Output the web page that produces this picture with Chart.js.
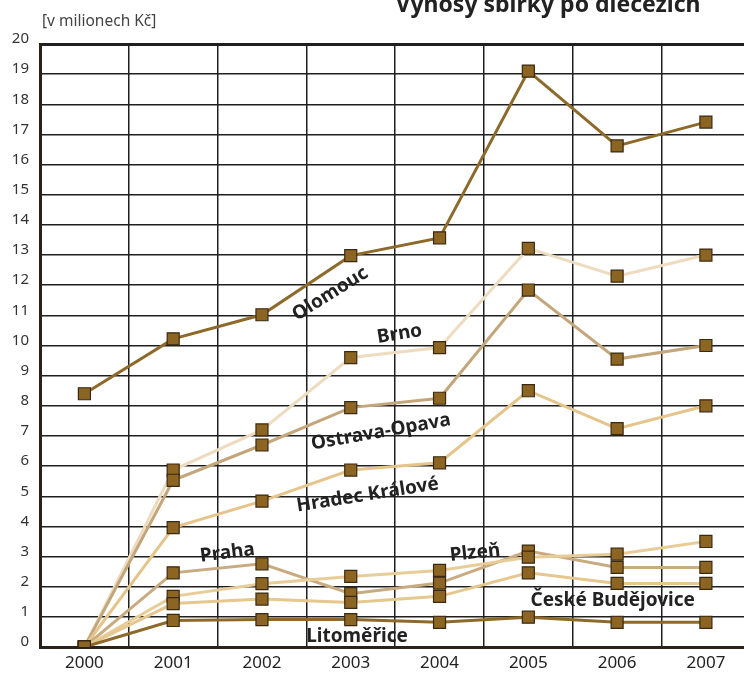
<!DOCTYPE html>
<html>
<head>
<meta charset="utf-8">
<script src="https://cdn.jsdelivr.net/npm/chart.js@4/dist/chart.umd.min.js"></script>
<style>
  html, body { margin: 0; padding: 0; background: #fff; overflow: hidden; }
</style>
</head>
<body>
<canvas id="graf" width="760" height="674"></canvas>
<script>
// roky a hodnoty (v milionech Kč)
const roky = ['2000', '2001', '2002', '2003', '2004', '2005', '2006', '2007'];
const olomouc = [8.4, 10.22, 11.02, 12.98, 13.57, 19.1, 16.62, 17.41];
const brno = [0, 5.87, 7.2, 9.6, 9.93, 13.22, 12.3, 13.0];
const ostrava = [0, 5.53, 6.7, 7.94, 8.25, 11.84, 9.55, 10.0];
const hradec = [0, 3.96, 4.84, 5.87, 6.11, 8.5, 7.24, 8.0];
const praha = [0, 2.46, 2.76, 1.77, 2.12, 3.18, 2.64, 2.64];
const plzen = [0, 1.68, 2.1, 2.34, 2.54, 2.98, 3.08, 3.5];
const budejovice = [0, 1.44, 1.59, 1.48, 1.68, 2.46, 2.11, 2.11];
const litomerice = [0, 0.88, 0.91, 0.91, 0.82, 0.99, 0.82, 0.82];

const osaY = [0, 20];

// popisky v grafu: [text, index roku, hodnota, natočení ve stupních]
const popisky = [
  ['Olomouc', 2.77, 11.71, -32],
  ['Brno', 3.55, 10.38, -9],
  ['Ostrava-Opava', 3.34, 7.13, -10],
  ['Hradec Králové', 3.19, 5.04, -9],
  ['Praha', 1.61, 3.12, -7],
  ['Plzeň', 4.40, 3.12, -6],
  ['České Budějovice', 5.95, 1.53, 0],
  ['Litoměřice', 3.07, 0.36, 0]
];

const nadpis = 'Výnosy sbírky po diecézích';
const jednotka = '[v milionech Kč]';

let rada = function (data, barva) {
  return {
    data: data,
    borderColor: barva,
    borderWidth: 3,
    tension: 0,
    pointStyle: 'rect',
    pointRadius: 8.5,
    pointHoverRadius: 8.5,
    pointBackgroundColor: '#8d6523',
    pointBorderColor: '#3a2912',
    pointBorderWidth: 1.2
  };
};

// vlastní popisky
let popiskyPlugin = {
  id: 'popisky',
  afterDatasetsDraw: function (chart) {
    let ctx = chart.ctx;
    let sx = chart.scales.x;
    let sy = chart.scales.y;
    ctx.save();
    ctx.fillStyle = '#222';
    ctx.font = 'bold 19px "Noto Sans"';
    ctx.textAlign = 'center';
    ctx.textBaseline = 'middle';
    popisky.forEach(function (p) {
      let x = sx.getPixelForValue(p[1]);
      let y = sy.getPixelForValue(p[2]);
      ctx.save();
      ctx.translate(x, y);
      ctx.rotate(p[3] * Math.PI / 180);
      ctx.fillText(p[0], 0, 0);
      ctx.restore();
    });

    // nadpis (nahoře oříznutý)
    ctx.font = 'bold 23px "Noto Sans"';
    ctx.textBaseline = 'alphabetic';
    ctx.fillText(nadpis, 548, 12);

    // jednotka
    ctx.font = '15.5px "Noto Sans"';
    ctx.fillStyle = '#444';
    ctx.textAlign = 'left';
    ctx.textBaseline = 'middle';
    ctx.fillText(jednotka, chart.chartArea.left + 2, 22);
    ctx.restore();
  }
};

let ctx = document.getElementById('graf').getContext('2d');
let chart = new Chart(ctx, {
  type: 'line',
  data: {
    labels: roky,
    datasets: [
      rada(litomerice, '#8e6a2a'),
      rada(budejovice, '#e6c78e'),
      rada(plzen, '#e8cd99'),
      rada(praha, '#c8ab80'),
      rada(hradec, '#e5c58b'),
      rada(ostrava, '#c4a67b'),
      rada(brno, '#eddcc0'),
      rada(olomouc, '#8e6a2a')
    ]
  },
  options: {
    responsive: false,
    animation: false,
    layout: {
      padding: { top: 44, right: 8, bottom: 0, left: 0 }
    },
    plugins: {
      legend: { display: false },
      tooltip: { enabled: false }
    },
    scales: {
      x: {
        offset: true,
        afterFit: function (scale) { scale.height = 27; },
        grid: {
          offset: true,
          color: '#1f1f1f',
          lineWidth: 1.5,
          drawTicks: false
        },
        border: { display: true, color: '#2a2219', width: 3 },
        ticks: {
          color: '#222',
          font: { family: 'Noto Sans', size: 17 },
          padding: 6,
          maxRotation: 0
        }
      },
      y: {
        min: osaY[0],
        max: osaY[1],
        afterFit: function (scale) { scale.width = 40; },
        grid: {
          color: '#1f1f1f',
          lineWidth: function (c) {
            return (c.tick && c.tick.value === osaY[1]) ? 3 : 1.5;
          },
          drawTicks: false
        },
        border: { display: true, color: '#2a2219', width: 3 },
        ticks: {
          stepSize: 1,
          color: '#333',
          font: { family: 'Noto Sans', size: 15 },
          padding: 11,
          labelOffset: -5
        }
      }
    }
  },
  plugins: [popiskyPlugin]
});
</script>
</body>
</html>
